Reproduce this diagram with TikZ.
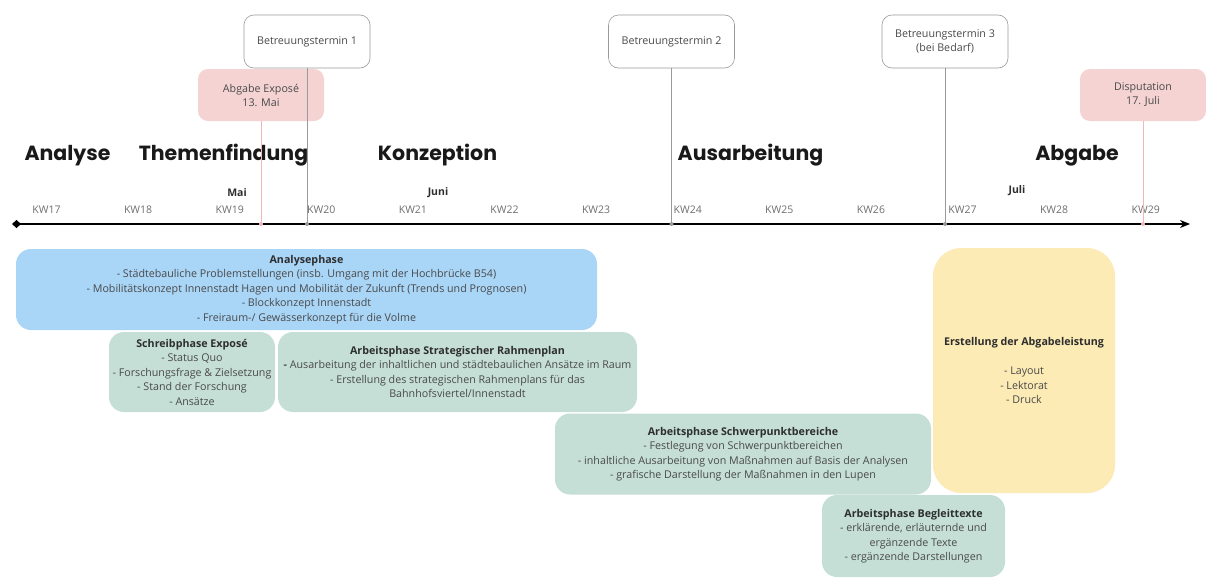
\documentclass[tikz,border=0pt]{standalone}
\usepackage{fontspec}
\setmainfont{Open Sans}
\newfontfamily\headfont{Poppins}
\usetikzlibrary{arrows.meta}
\definecolor{txt}{HTML}{4A4A4A}
\definecolor{ttl}{HTML}{2E2E2E}
\definecolor{bluec}{HTML}{A9D5F7}
\definecolor{greenc}{HTML}{C5DFD7}
\definecolor{yellowc}{HTML}{FCEBB5}
\definecolor{pinkc}{HTML}{F5D3D3}
\definecolor{pinkl}{HTML}{F0B8BC}
\definecolor{markl}{HTML}{9A9A9A}
\tikzset{
  marker/.style={draw=markl, line width=0.6pt, rounded corners=10pt, fill=white,
    minimum width=126pt, minimum height=53pt, align=center, inner sep=0pt,
    font=\fontsize{10.7}{14}\selectfont, text=txt},
  datebox/.style={fill=pinkc, rounded corners=10pt, minimum width=126pt,
    minimum height=52pt, align=center, inner sep=0pt,
    font=\fontsize{10.7}{14}\selectfont, text=txt},
  phase/.style={rounded corners=15pt, align=center, inner sep=0pt,
    font=\fontsize{10.7}{14.5}\selectfont, text=txt},
  kw/.style={font=\fontsize{10.5}{12}\selectfont, text=txt!80},
  month/.style={font=\bfseries\fontsize{10.5}{12}\selectfont, text=ttl},
  heading/.style={font=\headfont\bfseries\fontsize{20.5}{24}\selectfont, text=black!90, anchor=base},
  conn/.style={draw=markl, line width=0.8pt},
  connp/.style={draw=pinkl, line width=0.8pt},
}
\begin{document}
\begin{tikzpicture}[x=1pt,y=-1pt]
\useasboundingbox (0,0) rectangle (1206,579);

% phase boxes
\node[phase, fill=bluec, minimum width=581pt, minimum height=81pt] (ana) at (306.5,289.5)
 {\textbf{\color{ttl}Analysephase}\\
  - Städtebauliche Problemstellungen (insb. Umgang mit der Hochbrücke B54)\\
  - Mobilitätskonzept Innenstadt Hagen und Mobilität der Zukunft (Trends und Prognosen)\\
  - Blockkonzept Innenstadt\\
  - Freiraum-/ Gewässerkonzept für die Volme};
\node[phase, fill=greenc, minimum width=166pt, minimum height=80pt] (schreib) at (192,372)
 {\textbf{\color{ttl}Schreibphase Exposé}\\
  - Status Quo\\
  - Forschungsfrage \& Zielsetzung\\
  - Stand der Forschung\\
  - Ansätze};
\node[phase, fill=greenc, minimum width=359pt, minimum height=80pt] (strat) at (457.5,372)
 {\textbf{\color{ttl}Arbeitsphase Strategischer Rahmenplan}\\
  \textbf{-} Ausarbeitung der inhaltlichen und städtebaulichen Ansätze im Raum\\
  - Erstellung des strategischen Rahmenplans für das\\
  Bahnhofsviertel/Innenstadt};
\node[phase, fill=greenc, minimum width=376pt, minimum height=81pt] (schwer) at (743,454)
 {\textbf{\color{ttl}Arbeitsphase Schwerpunktbereiche}\\
  - Festlegung von Schwerpunktbereichen\\
  - inhaltliche Ausarbeitung von Maßnahmen auf Basis der Analysen\\
  - grafische Darstellung der Maßnahmen in den Lupen};
\node[phase, fill=greenc, minimum width=183pt, minimum height=82pt] (begl) at (913.5,536)
 {\textbf{\color{ttl}Arbeitsphase Begleittexte}\\
  - erklärende, erläuternde und\\
  ergänzende Texte\\
  - ergänzende Darstellungen};
\node[phase, fill=yellowc, rounded corners=28pt, minimum width=182pt, minimum height=245pt] (erst) at (1024,370.5)
 {\textbf{\color{ttl}Erstellung der Abgabeleistung}\\[14.5pt]
  - Layout\\
  - Lektorat\\
  - Druck};

% headings
\node[heading] (hAna) at (67.5,160) {Analyse};
\node[heading] (hThe) at (223.5,160) {Themenfindung};
\node[heading] (hKon) at (437.5,160) {Konzeption};
\node[heading] (hAus) at (750.5,160) {Ausarbeitung};
\node[heading] (hAbg) at (1077,160) {Abgabe};

% months
\node[month] (mMai) at (237,193) {Mai};
\node[month] (mJun) at (438,193) {Juni};
\node[month] (mJul) at (1017,191) {Juli};

% KW labels
\foreach \k [count=\i from 0] in {17,...,29} {
  \node[kw] (kw\k) at ({46.5+91.6*\i},210) {KW\k};
}

% axis
\coordinate (axL) at (12,224);
\coordinate (axR) at (1190,224);
\draw[line width=1.3pt, {Diamond[length=9pt,width=8pt]}-{Stealth[length=10pt,width=8pt]}] (axL) -- (axR);

% axis points
\coordinate (p1) at (307,224);
\coordinate (p2) at (671.5,224);
\coordinate (p3) at (945,224);
\coordinate (pe) at (261,224);
\coordinate (pd) at (1143,224);

% date boxes
\node[datebox] (expo) at (261,95) {Abgabe Exposé\\13. Mai};
\node[datebox] (disp) at (1143,95) {Disputation\\17. Juli};
\draw[connp] (expo.south) -- (pe);
\draw[connp] (disp.south) -- (pd);

% markers
\node[marker] (bt1) at (307,41.5) {Betreuungstermin 1};
\node[marker] (bt2) at (671.5,41.5) {Betreuungstermin 2};
\node[marker] (bt3) at (945,41.5) {Betreuungstermin 3\\(bei Bedarf)};
\draw[conn] (bt1.south) -- (p1);
\draw[conn] (bt2.south) -- (p2);
\draw[conn] (bt3.south) -- (p3);

\fill[markl] (p1) circle (2pt) (p2) circle (2pt) (p3) circle (2pt);
\fill[pinkl] (pe) circle (2pt) (pd) circle (2pt);
\end{tikzpicture}
\end{document}
